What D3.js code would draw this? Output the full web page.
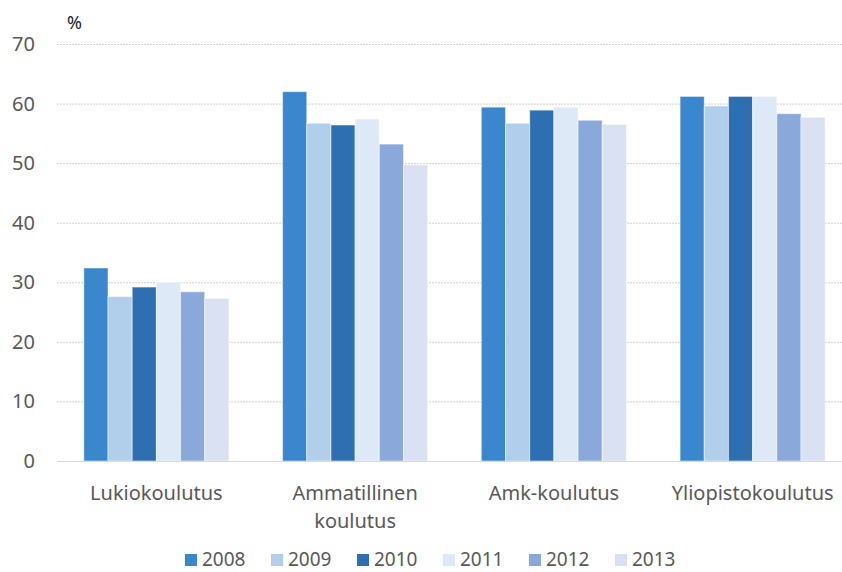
<!DOCTYPE html>
<html>
<head>
<meta charset="utf-8">
<script src="https://cdn.jsdelivr.net/npm/d3@7"></script>
<style>
  body { margin: 0; background: #fff; }
  text { font-family: "Noto Sans", sans-serif; fill: #595959; }
</style>
</head>
<body>
<svg id="chart" width="842" height="572"></svg>
<script>
// categories and series
var categories = [["Lukiokoulutus"], ["Ammatillinen", "koulutus"], ["Amk-koulutus"], ["Yliopistokoulutus"]];
var years = ["2008", "2009", "2010", "2011", "2012", "2013"];
var colors = ["#3a87cd", "#b1cfea", "#2e6fb1", "#dde9f6", "#8aa8da", "#d9e1f3"];

// values per year, one per category
var v2008 = [32.4, 62.0, 59.4, 61.2];
var v2009 = [27.6, 56.7, 56.7, 59.6];
var v2010 = [29.2, 56.4, 58.9, 61.2];
var v2011 = [30.0, 57.4, 59.4, 61.2];
var v2012 = [28.4, 53.2, 57.2, 58.3];
var v2013 = [27.3, 49.7, 56.5, 57.7];
var series = [v2008, v2009, v2010, v2011, v2012, v2013];

var yTicks = [0, 10, 20, 30, 40, 50, 60, 70];

var svg = d3.select("#chart");
var mLeft = 57, mRight = 852, mTop = 44, mBottom = 461;

var x0 = d3.scaleBand()
    .domain(d3.range(categories.length))
    .range([mLeft, mRight])
    .paddingInner(0.27)
    .paddingOuter(0.135);

var x1 = d3.scaleBand()
    .domain(d3.range(years.length))
    .range([0, x0.bandwidth()]);

var y = d3.scaleLinear().domain([0, 70]).range([mBottom, mTop]);

// grid lines
svg.append("g").selectAll("line")
    .data(yTicks.filter(d => d > 0))
    .enter().append("line")
    .attr("x1", mLeft).attr("x2", 842)
    .attr("y1", d => y(d) + 0.5).attr("y2", d => y(d) + 0.5)
    .attr("stroke", "#d0d0d0")
    .attr("stroke-dasharray", "2,1");

// y labels
svg.append("g").selectAll("text")
    .data(yTicks)
    .enter().append("text")
    .attr("x", 35)
    .attr("y", d => y(d) + 7)
    .attr("text-anchor", "end")
    .attr("font-size", 20)
    .text(d => d);

svg.append("text")
    .attr("x", 67).attr("y", 29)
    .attr("font-size", 18)
    .style("fill", "#222")
    .text("%");

// bars
var groups = svg.append("g").selectAll("g")
    .data(series)
    .enter().append("g")
    .attr("fill", (d, i) => colors[i]);

groups.selectAll("rect")
    .data((d, si) => d.map((v, ci) => ({v: v, ci: ci, si: si})))
    .enter().append("rect")
    .attr("x", d => x0(d.ci) + x1(d.si))
    .attr("width", x1.bandwidth())
    .attr("y", d => y(d.v))
    .attr("height", d => y(0) - y(d.v))
    .attr("stroke", "#fff")
    .attr("stroke-opacity", 0.5)
    .attr("stroke-width", 1);

// baseline
svg.append("line")
    .attr("x1", mLeft).attr("x2", 842)
    .attr("y1", mBottom + 0.5).attr("y2", mBottom + 0.5)
    .attr("stroke", "#d9d9d9");

// category labels
var cat = svg.append("g").selectAll("text")
    .data(categories)
    .enter().append("text")
    .attr("x", (d, i) => x0(i) + x0.bandwidth() / 2)
    .attr("y", 500)
    .attr("text-anchor", "middle")
    .attr("font-size", 20);

cat.selectAll("tspan")
    .data(d => d)
    .enter().append("tspan")
    .attr("x", function() { return d3.select(this.parentNode).attr("x"); })
    .attr("dy", (d, i) => i === 0 ? 0 : 28)
    .text(d => d);

// legend
var legend = svg.append("g").selectAll("g")
    .data(years)
    .enter().append("g")
    .attr("transform", (d, i) => "translate(" + (185 + i * 86) + ",554)");

legend.append("rect")
    .attr("width", 12).attr("height", 12)
    .attr("fill", (d, i) => colors[i]);

legend.append("text")
    .attr("x", 17).attr("y", 12)
    .attr("font-size", 19)
    .text(d => d);
</script>
</body>
</html>
